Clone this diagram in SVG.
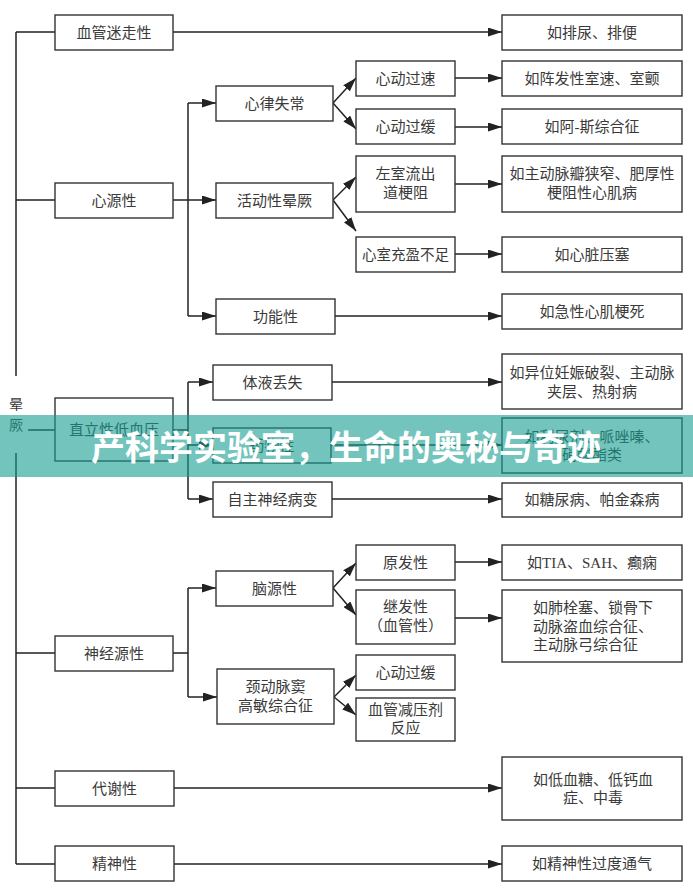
<svg xmlns="http://www.w3.org/2000/svg" width="693" height="892" viewBox="0 0 693 892">
<style>
  .box { fill: #ffffff; stroke: #333333; stroke-width: 1.4; }
  .t { font-family: "Liberation Serif", "Noto Sans CJK SC", serif; font-size: 15px; fill: #3a3a3a; text-anchor: middle; dominant-baseline: central; }
  .tl { text-anchor: start; }
  .ln { fill: none; stroke: #222222; stroke-width: 1.5; }
  .ar { fill: none; stroke: #222222; stroke-width: 1.5; marker-end: url(#arr); }
  .banner-text { font-family: "Noto Sans CJK SC", sans-serif; font-size: 34px; font-weight: 700; fill: #ffffff; }
</style>
<defs>
  <marker id="arr" markerUnits="userSpaceOnUse" markerWidth="14" markerHeight="9" refX="14" refY="4.5" orient="auto">
    <path d="M0,0 L14,4.5 L0,9 Z" fill="#222222"/>
  </marker>
</defs>
<rect x="0" y="0" width="693" height="892" fill="#ffffff"/>

<g id="connectors">
  <path class="ln" d="M16,32 V376 M16,453 V864"/>
  <path class="ln" d="M16,32 H55 M16,200 H55 M28,430 H55 M16,653 H55 M16,788 H55 M16,864 H55"/>
  <path class="ar" d="M173,32 H502"/>
  <path class="ln" d="M188,103 V316"/>
  <path class="ar" d="M188,103 H216"/>
  <path class="ar" d="M173,200 H216"/>
  <path class="ar" d="M188,316 H216"/>
  <path class="ar" d="M333,103 L356,78"/>
  <path class="ar" d="M333,103 L356,129"/>
  <path class="ar" d="M333,200 L356,177"/>
  <path class="ar" d="M333,200 L356,231"/>
  <path class="ar" d="M455,78 H502"/>
  <path class="ar" d="M455,127 H502"/>
  <path class="ar" d="M455,184 H502"/>
  <path class="ar" d="M455,254 H502"/>
  <path class="ar" d="M335,316 H502"/>
  <path class="ln" d="M173,430 H188 M188,382 V499"/>
  <path class="ar" d="M188,382 H213"/>
  <path class="ar" d="M188,445 H213"/>
  <path class="ar" d="M188,499 H213"/>
  <path class="ar" d="M332,382 H502"/>
  <path class="ar" d="M331,445 H502"/>
  <path class="ar" d="M332,499 H502"/>
  <path class="ln" d="M173,653 H188 M188,588 V697"/>
  <path class="ar" d="M188,588 H216"/>
  <path class="ar" d="M188,697 H217"/>
  <path class="ar" d="M333,588 L356,563"/>
  <path class="ar" d="M333,588 L356,615"/>
  <path class="ar" d="M455,562 H502"/>
  <path class="ar" d="M455,618 H502"/>
  <path class="ar" d="M334,697 L356,675"/>
  <path class="ar" d="M334,697 L356,715"/>
  <path class="ar" d="M174,788 H502"/>
  <path class="ar" d="M174,864 H502"/>
</g>

<g id="root">
  <text class="t" x="16" y="404" style="font-size:14px">晕</text>
  <text class="t" x="16" y="425" style="font-size:14px">厥</text>
</g>

<g id="n-xueguanmizou"><rect class="box" x="55" y="15" width="118" height="35"/><text class="t" x="114" y="32.5">血管迷走性</text></g>
<g id="n-xinyuan"><rect class="box" x="55" y="183" width="118" height="35"/><text class="t" x="114" y="200.5">心源性</text></g>
<g id="n-zhili"><rect class="box" x="55" y="398" width="118" height="63"/><text class="t" x="114" y="430">直立性低血压</text></g>
<g id="n-shenjing"><rect class="box" x="55" y="636" width="118" height="35"/><text class="t" x="114" y="653.5">神经源性</text></g>
<g id="n-daixie"><rect class="box" x="55" y="771" width="119" height="35"/><text class="t" x="114.5" y="788.5">代谢性</text></g>
<g id="n-jingshen"><rect class="box" x="55" y="846" width="119" height="35"/><text class="t" x="114.5" y="863.5">精神性</text></g>

<g id="n-xinlv"><rect class="box" x="216" y="86" width="117" height="35"/><text class="t" x="274.5" y="103.5">心律失常</text></g>
<g id="n-huodong"><rect class="box" x="216" y="183" width="117" height="35"/><text class="t" x="274.5" y="200.5">活动性晕厥</text></g>
<g id="n-gongneng"><rect class="box" x="216" y="299" width="119" height="35"/><text class="t" x="275.5" y="316.5">功能性</text></g>
<g id="n-tiye"><rect class="box" x="213" y="365" width="119" height="35"/><text class="t" x="272.5" y="382.5">体液丢失</text></g>
<g id="n-yaowu"><rect class="box" x="213" y="428" width="118" height="35"/><text class="t" x="272" y="445.5">药物性</text></g>
<g id="n-zizhu"><rect class="box" x="213" y="482" width="119" height="35"/><text class="t" x="272.5" y="499.5">自主神经病变</text></g>
<g id="n-naoyuan"><rect class="box" x="216" y="571" width="117" height="35"/><text class="t" x="274.5" y="588.5">脑源性</text></g>
<g id="n-jingdong"><rect class="box" x="217" y="669" width="117" height="55"/><text class="t" x="275.5" y="687">颈动脉窦</text><text class="t" x="275.5" y="706">高敏综合征</text></g>

<g id="n-xindongguosu"><rect class="box" x="356" y="61" width="99" height="35"/><text class="t" x="405.5" y="78.5">心动过速</text></g>
<g id="n-xindongguohuan1"><rect class="box" x="356" y="109" width="99" height="35"/><text class="t" x="405.5" y="126.5">心动过缓</text></g>
<g id="n-zuoshi"><rect class="box" x="356" y="156" width="99" height="56"/><text class="t" x="405.5" y="174">左室流出</text><text class="t" x="405.5" y="193">道梗阻</text></g>
<g id="n-xinshi"><rect class="box" x="356" y="237" width="99" height="35"/><text class="t" x="405.5" y="254.5" style="font-size:14.5px">心室充盈不足</text></g>
<g id="n-yuanfa"><rect class="box" x="356" y="545" width="99" height="35"/><text class="t" x="405.5" y="562.5">原发性</text></g>
<g id="n-jifa"><rect class="box" x="356" y="590" width="99" height="54"/><text class="t" x="405.5" y="607">继发性</text><text class="t" x="405.5" y="626">（血管性）</text></g>
<g id="n-xindongguohuan2"><rect class="box" x="356" y="655" width="99" height="35"/><text class="t" x="405.5" y="672.5">心动过缓</text></g>
<g id="n-xueguanjianya"><rect class="box" x="356" y="698" width="99" height="43"/><text class="t" x="405.5" y="710">血管减压剂</text><text class="t" x="405.5" y="728">反应</text></g>

<g id="r-painiao"><rect class="box" x="502" y="15" width="180" height="35"/><text class="t" x="592" y="32.5">如排尿、排便</text></g>
<g id="r-shisu"><rect class="box" x="502" y="61" width="180" height="35"/><text class="t" x="592" y="78.5">如阵发性室速、室颤</text></g>
<g id="r-asi"><rect class="box" x="502" y="109" width="180" height="35"/><text class="t" x="592" y="126.5">如阿-斯综合征</text></g>
<g id="r-zhudongmaiban"><rect class="box" x="502" y="156" width="180" height="56"/><text class="t" x="592" y="174">如主动脉瓣狭窄、肥厚性</text><text class="t" x="592" y="193">梗阻性心肌病</text></g>
<g id="r-yasai"><rect class="box" x="502" y="237" width="180" height="35"/><text class="t" x="592" y="254.5">如心脏压塞</text></g>
<g id="r-xingeng"><rect class="box" x="502" y="294" width="180" height="35"/><text class="t" x="592" y="311.5">如急性心肌梗死</text></g>
<g id="r-yiwei"><rect class="box" x="502" y="354" width="180" height="55"/><text class="t" x="592" y="373">如异位妊娠破裂、主动脉</text><text class="t" x="592" y="392">夹层、热射病</text></g>
<g id="r-liniao"><rect class="box" x="502" y="418" width="180" height="55"/><text class="t" x="592" y="437">如利尿剂、哌唑嗪、</text><text class="t" x="592" y="455">硝酸酯类</text></g>
<g id="r-tangniao"><rect class="box" x="502" y="483" width="180" height="34"/><text class="t" x="592" y="500">如糖尿病、帕金森病</text></g>
<g id="r-tia"><rect class="box" x="502" y="545" width="180" height="35"/><text class="t" x="592" y="562.5">如TIA、SAH、癫痫</text></g>
<g id="r-feishuan"><rect class="box" x="502" y="590" width="180" height="72"/><text class="t tl" x="533" y="608">如肺栓塞、锁骨下</text><text class="t tl" x="533" y="627">动脉盗血综合征、</text><text class="t tl" x="533" y="645">主动脉弓综合征</text></g>
<g id="r-ditang"><rect class="box" x="502" y="757" width="180" height="63"/><text class="t" x="593" y="780">如低血糖、低钙血</text><text class="t" x="593" y="798">症、中毒</text></g>
<g id="r-tongqi"><rect class="box" x="502" y="846" width="180" height="35"/><text class="t" x="592" y="863.5">如精神性过度通气</text></g>

<g id="banner">
  <rect x="0" y="415" width="693" height="62" fill="rgb(20,157,143)" fill-opacity="0.6"/>
  <text class="banner-text" x="91" y="460">产科学实验室，生命的奥秘与奇迹</text>
</g>
</svg>
